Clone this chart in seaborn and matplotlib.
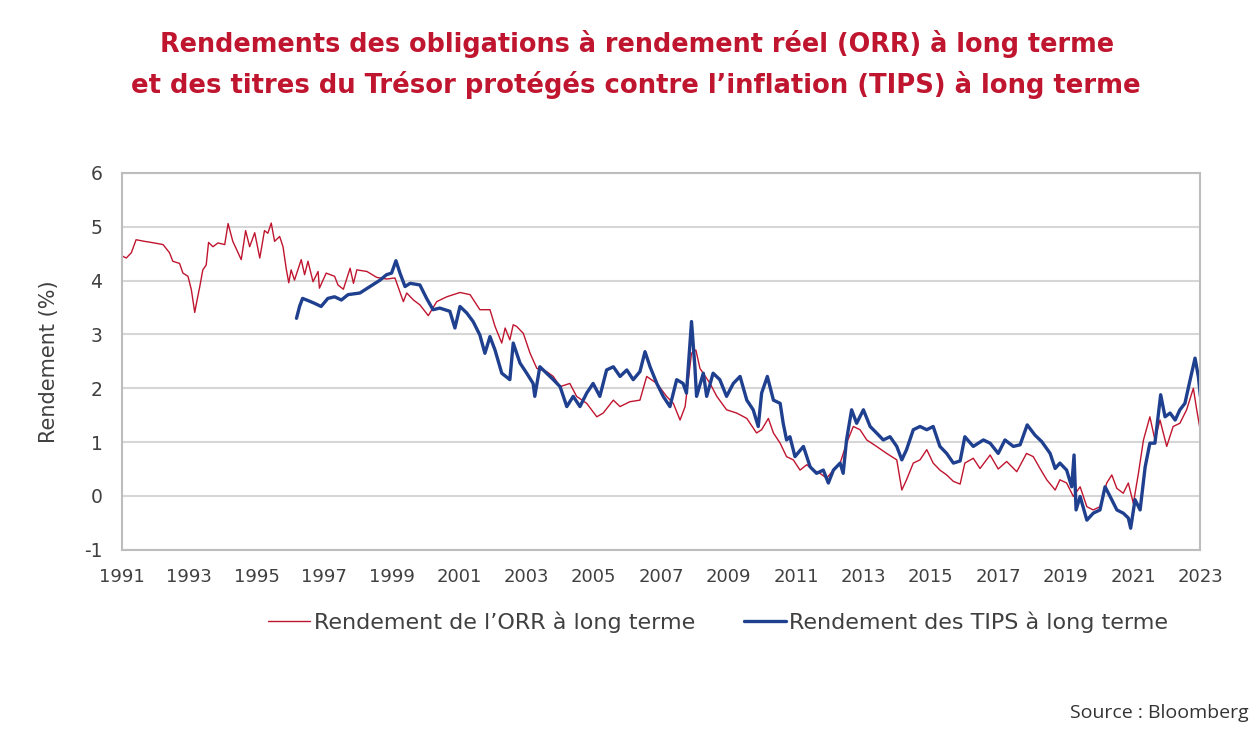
import pandas as pd
import seaborn as sns
import matplotlib.pyplot as plt

# Rendement de l'ORR a long terme (annee decimale, %)
orr_years = [
    1991.00, 1991.13, 1991.28, 1991.42, 1991.67, 1991.87, 1992.22, 1992.41,
    1992.51, 1992.71, 1992.81, 1992.96, 1993.06, 1993.16, 1993.23, 1993.31,
    1993.40, 1993.50, 1993.57, 1993.70, 1993.85, 1994.05, 1994.15, 1994.29,
    1994.54, 1994.67, 1994.79, 1994.94, 1995.09, 1995.23, 1995.33, 1995.43,
    1995.53, 1995.68, 1995.78, 1995.88, 1995.95, 1996.02, 1996.12, 1996.32,
    1996.42, 1996.52, 1996.67, 1996.82, 1996.86, 1997.06, 1997.31, 1997.41,
    1997.57, 1997.77, 1997.87, 1997.97, 1998.27, 1998.56, 1998.86, 1999.10,
    1999.35, 1999.45, 1999.65, 1999.84, 2000.09, 2000.34, 2000.64, 2001.03,
    2001.33, 2001.62, 2001.92, 2002.07, 2002.27, 2002.37, 2002.51, 2002.61,
    2002.71, 2002.91, 2003.11, 2003.31, 2003.60, 2003.80, 2004.00, 2004.29,
    2004.49, 2004.79, 2005.09, 2005.28, 2005.58, 2005.78, 2006.07, 2006.37,
    2006.57, 2006.87, 2007.16, 2007.36, 2007.56, 2007.71, 2007.90, 2008.03,
    2008.15, 2008.45, 2008.65, 2008.94, 2009.24, 2009.54, 2009.83, 2009.98,
    2010.18, 2010.33, 2010.53, 2010.72, 2010.92, 2011.12, 2011.32, 2011.51,
    2011.71, 2011.91, 2012.11, 2012.31, 2012.50, 2012.70, 2012.90, 2013.10,
    2013.39, 2013.69, 2013.99, 2014.14, 2014.28, 2014.48, 2014.68, 2014.88,
    2015.07, 2015.27, 2015.47, 2015.67, 2015.87, 2016.01, 2016.26, 2016.46,
    2016.76, 2017.00, 2017.25, 2017.55, 2017.84, 2018.04, 2018.24, 2018.44,
    2018.69, 2018.83, 2019.03, 2019.23, 2019.43, 2019.63, 2019.82, 2020.02,
    2020.22, 2020.37, 2020.52, 2020.71, 2020.86, 2021.01, 2021.16, 2021.31,
    2021.50, 2021.65, 2021.80, 2022.00, 2022.19, 2022.39, 2022.59, 2022.79,
    2022.89, 2023.00,
]
orr_values = [
    4.46, 4.42, 4.52, 4.76, 4.73, 4.71, 4.67, 4.52,
    4.36, 4.32, 4.14, 4.08, 3.83, 3.41, 3.64, 3.89,
    4.20, 4.29, 4.71, 4.63, 4.70, 4.67, 5.06, 4.73,
    4.39, 4.93, 4.63, 4.89, 4.42, 4.93, 4.88, 5.07,
    4.73, 4.82, 4.63, 4.20, 3.96, 4.20, 4.01, 4.39,
    4.11, 4.36, 3.98, 4.17, 3.86, 4.14, 4.08, 3.92,
    3.84, 4.23, 3.95, 4.20, 4.17, 4.06, 4.03, 4.05,
    3.61, 3.77, 3.64, 3.55, 3.35, 3.61, 3.70, 3.78,
    3.74, 3.46, 3.46, 3.15, 2.84, 3.12, 2.90, 3.18,
    3.15, 3.02, 2.65, 2.37, 2.31, 2.22, 2.03, 2.09,
    1.85, 1.72, 1.47, 1.54, 1.78, 1.66, 1.75, 1.78,
    2.22, 2.09, 1.85, 1.72, 1.41, 1.66, 2.65, 2.71,
    2.37, 2.09, 1.85, 1.60, 1.54, 1.44, 1.17, 1.23,
    1.44, 1.17, 0.98, 0.73, 0.67, 0.48, 0.58, 0.48,
    0.42, 0.33, 0.48, 0.61, 0.98, 1.29, 1.23, 1.04,
    0.92, 0.79, 0.67, 0.11, 0.30, 0.61, 0.67, 0.86,
    0.61, 0.48, 0.39, 0.27, 0.22, 0.61, 0.70, 0.51,
    0.76, 0.50, 0.64, 0.45, 0.79, 0.73, 0.51, 0.30,
    0.11, 0.30, 0.24, -0.01, 0.17, -0.20, -0.26, -0.20,
    0.24, 0.39, 0.14, 0.05, 0.24, -0.14, 0.42, 1.04,
    1.47, 1.04, 1.41, 0.92, 1.29, 1.35, 1.60, 2.00,
    1.60, 1.20,
]

# Rendement des TIPS a long terme
tips_years = [
    1996.18, 1996.27, 1996.36, 1996.56, 1996.71, 1996.91, 1997.11, 1997.31,
    1997.51, 1997.71, 1998.06, 1998.36, 1998.66, 1998.85, 1999.00, 1999.13,
    1999.25, 1999.40, 1999.55, 1999.84, 2000.04, 2000.23, 2000.43, 2000.73,
    2000.88, 2001.03, 2001.23, 2001.42, 2001.62, 2001.77, 2001.92, 2002.07,
    2002.27, 2002.51, 2002.61, 2002.81, 2003.01, 2003.20, 2003.25, 2003.40,
    2003.60, 2003.80, 2004.00, 2004.20, 2004.39, 2004.59, 2004.79, 2004.98,
    2005.18, 2005.38, 2005.58, 2005.78, 2005.98, 2006.17, 2006.37, 2006.52,
    2006.67, 2006.87, 2007.06, 2007.26, 2007.46, 2007.65, 2007.75, 2007.90,
    2008.00, 2008.05, 2008.25, 2008.35, 2008.54, 2008.74, 2008.94, 2009.14,
    2009.34, 2009.54, 2009.73, 2009.88, 2009.98, 2010.15, 2010.33, 2010.53,
    2010.62, 2010.72, 2010.82, 2010.97, 2011.22, 2011.42, 2011.61, 2011.81,
    2011.96, 2012.11, 2012.31, 2012.40, 2012.50, 2012.65, 2012.80, 2013.00,
    2013.20, 2013.39, 2013.59, 2013.79, 2013.99, 2014.14, 2014.28, 2014.48,
    2014.68, 2014.88, 2015.07, 2015.27, 2015.47, 2015.67, 2015.87, 2016.01,
    2016.26, 2016.56, 2016.76, 2017.00, 2017.20, 2017.45, 2017.65, 2017.86,
    2018.09, 2018.29, 2018.54, 2018.69, 2018.83, 2019.03, 2019.18, 2019.25,
    2019.31, 2019.43, 2019.63, 2019.82, 2020.02, 2020.17, 2020.32, 2020.52,
    2020.71, 2020.86, 2020.93, 2021.06, 2021.21, 2021.36, 2021.50, 2021.65,
    2021.82, 2021.95, 2022.10, 2022.25, 2022.39, 2022.54, 2022.67, 2022.84,
    2022.94, 2023.00,
]
tips_values = [
    3.30, 3.52, 3.67, 3.62, 3.58, 3.52, 3.67, 3.70,
    3.64, 3.74, 3.77, 3.89, 4.01, 4.11, 4.14, 4.37,
    4.14, 3.89, 3.95, 3.92, 3.67, 3.46, 3.49, 3.43,
    3.12, 3.52, 3.40, 3.24, 2.99, 2.65, 2.96, 2.71,
    2.28, 2.16, 2.84, 2.47, 2.28, 2.09, 1.85, 2.40,
    2.28, 2.16, 2.03, 1.66, 1.85, 1.66, 1.91, 2.09,
    1.85, 2.34, 2.40, 2.22, 2.34, 2.16, 2.31, 2.68,
    2.40, 2.09, 1.85, 1.66, 2.16, 2.09, 1.91, 3.24,
    2.40, 1.85, 2.28, 1.85, 2.28, 2.16, 1.85, 2.09,
    2.22, 1.78, 1.60, 1.29, 1.91, 2.22, 1.78, 1.72,
    1.35, 1.04, 1.10, 0.73, 0.92, 0.54, 0.42, 0.48,
    0.24, 0.48, 0.61, 0.42, 1.04, 1.60, 1.35, 1.60,
    1.29, 1.17, 1.04, 1.10, 0.92, 0.67, 0.86, 1.23,
    1.29, 1.23, 1.29, 0.92, 0.79, 0.61, 0.65, 1.10,
    0.92, 1.04, 0.98, 0.79, 1.04, 0.92, 0.95, 1.32,
    1.13, 1.01, 0.79, 0.51, 0.61, 0.48, 0.17, 0.76,
    -0.26, -0.01, -0.45, -0.32, -0.26, 0.17, -0.01, -0.26,
    -0.32, -0.41, -0.60, -0.07, -0.26, 0.54, 0.98, 0.98,
    1.88, 1.47, 1.54, 1.41, 1.60, 1.72, 2.09, 2.56,
    2.21, 1.85,
]

year_ticks = list(range(1991, 2024, 2))
y_ticks = [-1, 0, 1, 2, 3, 4, 5, 6]

RED = "#C0152F"
BLUE = "#1F3F8F"
TEXT = "#404040"

sns.set_theme(style="white")
plt.rcParams["font.family"] = ["DejaVu Sans"]
plt.rcParams["axes.unicode_minus"] = False

fig = plt.figure(figsize=(12.57, 7.33), dpi=100)
ax = fig.add_axes([0.097, 0.25, 0.858, 0.514])

orr = pd.DataFrame({"annee": orr_years, "rendement": orr_values})
tips = pd.DataFrame({"annee": tips_years, "rendement": tips_values})

sns.lineplot(data=orr, x="annee", y="rendement", ax=ax, color=RED,
             linewidth=1.0, sort=False, label="Rendement de l\u2019ORR à long terme")
sns.lineplot(data=tips, x="annee", y="rendement", ax=ax, color=BLUE,
             linewidth=2.4, sort=False, label="Rendement des TIPS à long terme")

ax.set_xlim(1991, 2023)
ax.set_ylim(-1, 6)
ax.set_xticks(year_ticks)
ax.set_yticks(y_ticks)
ax.tick_params(axis="x", length=0, labelsize=13, labelcolor=TEXT, pad=13)
ax.tick_params(axis="y", length=0, labelsize=13.5, labelcolor=TEXT, pad=14)
ax.set_xlabel("")
ax.set_ylabel("Rendement (%)", fontsize=15, color=TEXT, labelpad=18)
ax.grid(axis="y", color="#D6D6D6", linewidth=1.5)
ax.grid(axis="x", visible=False)
for side in ax.spines.values():
    side.set_color("#BDBDBD")
    side.set_linewidth(1.5)

leg = ax.legend(loc="upper center", bbox_to_anchor=(0.553, -0.11), ncol=2,
                frameon=False, fontsize=16, handlelength=1.9,
                handletextpad=0.15, columnspacing=2.2)
for t in leg.get_texts():
    t.set_color(TEXT)

fig.text(0.507, 0.94, "Rendements des obligations à rendement réel (ORR) à long terme",
         ha="center", va="center", fontsize=18.4, fontweight="bold", color=RED)
fig.text(0.506, 0.884, "et des titres du Trésor protégés contre l\u2019inflation (TIPS) à long terme",
         ha="center", va="center", fontsize=18.6, fontweight="bold", color=RED)
fig.text(0.993, 0.027, "Source : Bloomberg", ha="right", va="center",
         fontsize=14, color="#333333", family=["Open Sans", "DejaVu Sans"])

fig.savefig("out.png", dpi=100)
